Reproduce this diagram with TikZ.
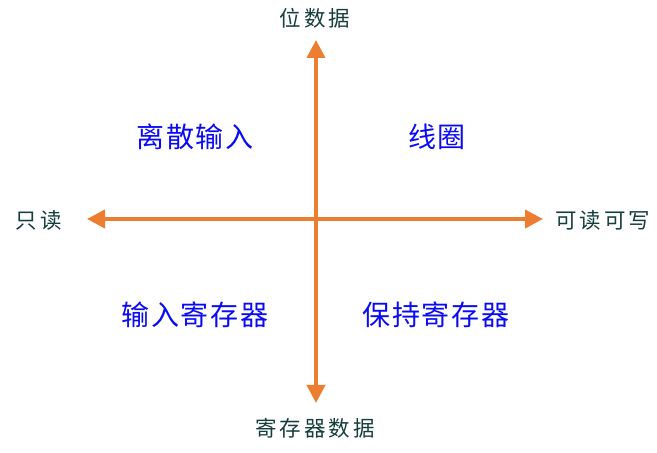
\documentclass[tikz,border=0pt]{standalone}
\usepackage{fontspec}
\newfontfamily\cjkaxis[LetterSpace=14]{Noto Sans CJK SC}
\newfontfamily\cjkquad[LetterSpace=6]{Noto Sans CJK SC}
\usetikzlibrary{arrows.meta}
\definecolor{axisorange}{RGB}{237,125,49}
\definecolor{axistext}{RGB}{22,62,60}
\definecolor{quadblue}{RGB}{10,10,245}
\begin{document}
\begin{tikzpicture}[x=1pt,y=1pt,
  axisline/.style={draw=axisorange,line width=4pt,{Triangle[length=18pt,width=18pt]}-{Triangle[length=18pt,width=18pt]}},
  axislabel/.style={text=axistext,font=\cjkaxis\fontsize{21.5}{23}\selectfont,inner sep=0pt},
  quadlabel/.style={text=quadblue,font=\cjkquad\fontsize{28}{31}\selectfont,inner sep=0pt}]
\useasboundingbox (0,0) rectangle (657,453);
\coordinate (top) at (316,413);
\coordinate (bottom) at (316,50);
\coordinate (left) at (87,234);
\coordinate (right) at (543,234);
\draw[axisline] (left) -- (right);
\draw[axisline] (top) -- (bottom);
\node[axislabel] (ltop) at (315,435) {位数据};
\node[axislabel] (lbottom) at (315,25) {寄存器数据};
\node[axislabel] (lleft) at (39,233) {只读};
\node[axislabel] (lright) at (603,233) {可读可写};
\node[quadlabel] (q1) at (195,316) {离散输入};
\node[quadlabel] (q2) at (437,316) {线圈};
\node[quadlabel] (q3) at (195,138) {输入寄存器};
\node[quadlabel] (q4) at (436,138) {保持寄存器};
\end{tikzpicture}
\end{document}
